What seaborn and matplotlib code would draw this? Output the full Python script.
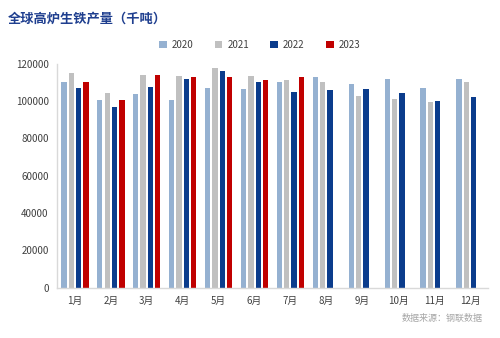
import numpy as np
import pandas as pd
import matplotlib
matplotlib.use("Agg")
import matplotlib.pyplot as plt
import seaborn as sns

months = ["1月", "2月", "3月", "4月", "5月", "6月", "7月", "8月", "9月", "10月", "11月", "12月"]
years = ["2020", "2021", "2022", "2023"]
v2020 = [110500, 100700, 103700, 100700, 107300, 106400, 110200, 112700, 109300, 111800, 107300, 111800]
v2021 = [115000, 104300, 114100, 113600, 117700, 113600, 111400, 110200, 102800, 101000, 99400, 110500]
v2022 = [107300, 97100, 107800, 111800, 116200, 110500, 104800, 106000, 106600, 104300, 100300, 102500]
v2023 = [110500, 100700, 114100, 112700, 112700, 111400, 112700, np.nan, np.nan, np.nan, np.nan, np.nan]
colors = ["#95B1D1", "#C0C0C0", "#0B3C8C", "#C00000"]

rows = []
for y, vals in zip(years, [v2020, v2021, v2022, v2023]):
    for m, v in zip(months, vals):
        rows.append({"month": m, "year": y, "value": v})
df = pd.DataFrame(rows)

sns.set_theme(style="white")
plt.rcParams['font.family'] = ['Noto Sans CJK SC', 'DejaVu Sans']

fig = plt.figure(figsize=(5, 3.38), dpi=100)
ax = fig.add_axes([0.114, 0.149, 0.862, 0.662])
sns.barplot(data=df, x="month", y="value", hue="year", order=months, hue_order=years,
            palette=colors, width=0.82, gap=0.28, ax=ax, legend=True, saturation=1,
            linewidth=0, edgecolor="none")

ax.set_ylim(0, 120000)
ax.set_yticks(np.arange(0, 120001, 20000))
ax.set_yticklabels([str(int(t)) for t in np.arange(0, 120001, 20000)])
ax.set_xlabel("")
ax.set_ylabel("")
ax.tick_params(axis='both', labelsize=7, colors="#404040", length=0, pad=6)
for s in ["top", "right"]:
    ax.spines[s].set_visible(False)
for s in ["left", "bottom"]:
    ax.spines[s].set_color("#D9D9D9")
    ax.spines[s].set_linewidth(1)
ax.set_xlim(-0.5, 11.5)

leg = ax.legend(loc="center", bbox_to_anchor=(0.47, 1.085), ncol=4, frameon=False,
                fontsize=7, handlelength=0.8, handleheight=0.8, columnspacing=2.2,
                handletextpad=0.5)
for t in leg.get_texts():
    t.set_color("#404040")
for h in leg.legend_handles:
    h.set_linewidth(0)

fig.text(0.016, 0.945, "全球高炉生铁产量（千吨）", fontsize=9.5, fontweight="bold",
         color="#1F3F8F", ha="left", va="center")
fig.text(0.965, 0.058, "数据来源：钢联数据", fontsize=6.5, color="#A6A6A6",
         ha="right", va="center")

fig.savefig("out.png", dpi=100)
